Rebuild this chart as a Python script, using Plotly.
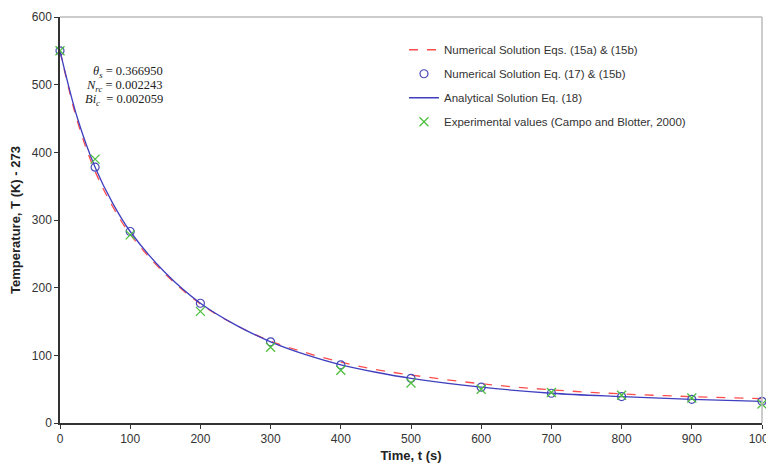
import plotly.graph_objects as go

# Curve sample times (s)
t_curve = [0, 25, 50, 75, 100, 150, 200, 250, 300, 350, 400, 450, 500, 600, 700, 800, 900, 1000]
# Numerical solution Eqs. (15a) & (15b) - red dashed
num_15 = [550, 445, 372, 320, 279, 220, 176, 145, 121, 104, 90, 79, 71, 58, 49, 43, 39, 36]
# Analytical solution Eq. (18) - blue solid
analytical = [550, 450, 378, 325, 283, 222, 177, 145, 120, 101, 86, 75, 66, 53, 44, 39, 35, 32]

# Point series times
t_pts = [0, 50, 100, 200, 300, 400, 500, 600, 700, 800, 900, 1000]
# Numerical solution Eq. (17) & (15b) - blue circles
num_17 = [550, 378, 283, 177, 120, 86, 66, 53, 44, 39, 35, 32]
# Experimental values (Campo and Blotter, 2000) - green x
experimental = [550, 390, 278, 165, 112, 78, 59, 50, 45, 41, 37, 28]

x_ticks = [0, 100, 200, 300, 400, 500, 600, 700, 800, 900, 1000]
y_ticks = [0, 100, 200, 300, 400, 500, 600]

fig = go.Figure()
fig.add_trace(go.Scatter(
    x=t_curve, y=num_15, mode="lines", name="Numerical Solution Eqs. (15a) & (15b)",
    line=dict(color="#ff4d4d", width=1.3, dash="dash", shape="spline"), legendgroup="a",
    cliponaxis=False))
fig.add_trace(go.Scatter(
    x=t_pts, y=num_17, mode="markers", name="Numerical Solution Eq. (17) & (15b)",
    marker=dict(symbol="circle-open", size=8, color="#4a4ab8", line=dict(width=1.2)), legendgroup="b",
    cliponaxis=False))
fig.add_trace(go.Scatter(
    x=t_curve, y=analytical, mode="lines", name="Analytical Solution Eq. (18)",
    line=dict(color="#3f3fbf", width=1.3, shape="spline"), legendgroup="c", cliponaxis=False))
fig.add_trace(go.Scatter(
    x=t_pts, y=experimental, mode="markers", name="Experimental values (Campo and Blotter, 2000)",
    marker=dict(symbol="x-thin-open", size=9, color="#4fbf3f", line=dict(width=1.3, color="#4fbf3f")),
    legendgroup="d", cliponaxis=False))

ann_font = dict(family="Liberation Serif", size=12.5, color="#222222")
for txt, yv in [("<i>θ<sub>s</sub></i> = 0.366950", 519),
                ("<i>N<sub>rc</sub></i> = 0.002243", 498),
                ("<i>Bi<sub>c</sub></i>  = 0.002059", 477)]:
    fig.add_annotation(x=150, y=yv, xref="x", yref="y", text=txt, showarrow=False,
                       xanchor="right", yanchor="middle", font=ann_font)

fig.update_layout(
    width=766, height=465,
    margin=dict(l=52, r=12, t=9, b=50, autoexpand=False),
    plot_bgcolor="white", paper_bgcolor="white",
    font=dict(family="Arial", size=12, color="#333333"),
    showlegend=True,
    legend=dict(x=0.49, y=0.955, xanchor="left", yanchor="top", bgcolor="rgba(0,0,0,0)",
                font=dict(family="Arial", size=11.5, color="#333333"), tracegroupgap=5,
                itemwidth=30),
    xaxis=dict(range=[0, 1000], tickvals=x_ticks, ticks="outside", ticklen=4,
               tickcolor="#333333", showline=True, linecolor="#333333", linewidth=1.5,
               showgrid=False, zeroline=False, mirror=False, ticklabeloverflow="allow",
               tickfont=dict(size=12), automargin=False,
               title=dict(text="<b>Time, t (s)</b>", font=dict(size=13, color="#222222"), standoff=6)),
    yaxis=dict(range=[0, 600], tickvals=y_ticks, ticks="outside", ticklen=4,
               tickcolor="#333333", showline=True, linecolor="#333333", linewidth=1.5,
               showgrid=False, zeroline=False, tickfont=dict(size=12), automargin=False,
               ticklabeloverflow="allow",
               title=dict(text="<b>Temperature, T (K) - 273</b>", font=dict(size=13, color="#222222"), standoff=8)),
    shapes=[dict(type="line", xref="paper", yref="paper", x0=0, x1=1, y0=1, y1=1,
                 line=dict(color="#bbbbbb", width=1.5)),
            dict(type="line", xref="paper", yref="paper", x0=1, x1=1, y0=0, y1=1,
                 line=dict(color="#bbbbbb", width=1.5))],
)

fig.write_html("out.html")
